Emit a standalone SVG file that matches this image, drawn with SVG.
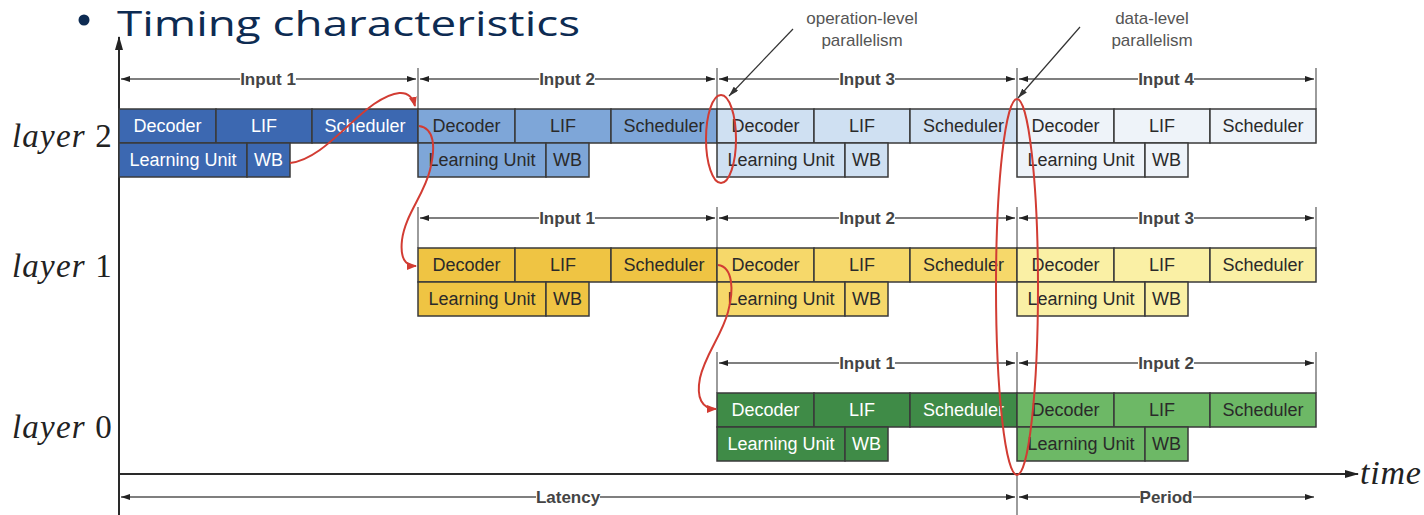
<svg xmlns="http://www.w3.org/2000/svg" width="1424" height="515" viewBox="0 0 1424 515">
  <defs>
    <marker id="dimHead" viewBox="0 0 9 6" refX="9" refY="3" markerWidth="9" markerHeight="6" markerUnits="userSpaceOnUse" orient="auto-start-reverse">
      <path d="M0,0 L9,3 L0,6 z" fill="#222"/>
    </marker>
    <marker id="axisHead" viewBox="0 0 14 8" refX="13" refY="4" markerWidth="14" markerHeight="8" markerUnits="userSpaceOnUse" orient="auto">
      <path d="M0,0 L14,4 L0,8 z" fill="#222"/>
    </marker>
    <marker id="redHead" viewBox="0 0 10 8" refX="9" refY="4" markerWidth="10" markerHeight="8" markerUnits="userSpaceOnUse" orient="auto">
      <path d="M0,0 L10,4 L0,8 z" fill="#d23c33"/>
    </marker>
    <marker id="noteHead" viewBox="0 0 10 6" refX="10" refY="3" markerWidth="10" markerHeight="6" markerUnits="userSpaceOnUse" orient="auto">
      <path d="M0,0 L10,3 L0,6 z" fill="#333"/>
    </marker>
  </defs>
  <style>
    .cell { stroke: #3a3a3a; stroke-width: 1.5; }
    .lbl { font-family: "Liberation Sans", Arial, sans-serif; font-size: 18px; text-anchor: middle; }
    .dark { fill: #ffffff; }
    .light { fill: #2a2a2a; }
    .b1 { fill: #3c68b1; } .b2 { fill: #7ea6d8; } .b3 { fill: #cfe0f2; } .b4 { fill: #eef3f9; }
    .y1 { fill: #efc443; } .y2 { fill: #f6d86a; } .y3 { fill: #faf0a5; }
    .g1 { fill: #3f8b47; } .g2 { fill: #6db866; }
    .dim { stroke: #555; stroke-width: 1.3; fill: none; }
    .tick { stroke: #666; stroke-width: 1.3; }
    .gap { fill: #ffffff; }
    .dimtxt { font-family: "Liberation Sans", Arial, sans-serif; font-size: 17px; font-weight: bold; fill: #444; text-anchor: middle; }
    .layer { font-family: "Liberation Serif", "Times New Roman", serif; font-size: 33px; font-style: italic; fill: #222; letter-spacing: 1.2px; }
    .num { font-style: normal; }
    .note { font-family: "Liberation Sans", Arial, sans-serif; font-size: 17px; fill: #555; text-anchor: middle; }
    .red { stroke: #d23c33; stroke-width: 2; fill: none; }
    .axis { stroke: #2a2a2a; stroke-width: 2; fill: none; }
  </style>

  <rect width="1424" height="515" fill="#ffffff"/>

  <!-- heading -->
  <g id="title">
    <circle cx="84" cy="20" r="5.5" fill="#0d2b52"/>
    <text x="117" y="36" font-family="'Open Sans', 'Noto Sans', sans-serif" font-size="34" fill="#0d2b52" textLength="463" lengthAdjust="spacingAndGlyphs">Timing characteristics</text>
  </g>

  <!-- axes -->
  <g id="axes">
    <line class="axis" x1="119" y1="515" x2="119" y2="37" marker-end="url(#axisHead)"/>
    <line class="axis" x1="118" y1="474" x2="1358" y2="474" marker-end="url(#axisHead)"/>
    <text x="1360" y="484" font-family="'Liberation Serif', 'Times New Roman', serif" font-size="34" font-style="italic" fill="#222" letter-spacing="0.8">time</text>
  </g>

  <!-- layer labels -->
  <g id="layer-labels">
    <text class="layer" x="12" y="147">layer <tspan class="num">2</tspan></text>
    <text class="layer" x="12" y="277">layer <tspan class="num">1</tspan></text>
    <text class="layer" x="12" y="438">layer <tspan class="num">0</tspan></text>
  </g>

  <!-- input spans -->
  <g id="spans">
    <!-- layer 2 -->
    <line class="tick" x1="418" y1="68" x2="418" y2="109"/>
    <line class="tick" x1="717" y1="68" x2="717" y2="109"/>
    <line class="tick" x1="1017" y1="68" x2="1017" y2="109"/>
    <line class="tick" x1="1316" y1="68" x2="1316" y2="109"/>
    <line class="dim" x1="121" y1="79" x2="416" y2="79" marker-start="url(#dimHead)" marker-end="url(#dimHead)"/>
    <line class="dim" x1="420" y1="79" x2="715" y2="79" marker-start="url(#dimHead)" marker-end="url(#dimHead)"/>
    <line class="dim" x1="719" y1="79" x2="1015" y2="79" marker-start="url(#dimHead)" marker-end="url(#dimHead)"/>
    <line class="dim" x1="1019" y1="79" x2="1314" y2="79" marker-start="url(#dimHead)" marker-end="url(#dimHead)"/>
    <rect class="gap" x="240" y="70" width="56" height="18"/>
    <rect class="gap" x="539" y="70" width="56" height="18"/>
    <rect class="gap" x="839" y="70" width="56" height="18"/>
    <rect class="gap" x="1138" y="70" width="56" height="18"/>
    <text class="dimtxt" x="268" y="85">Input 1</text>
    <text class="dimtxt" x="567" y="85">Input 2</text>
    <text class="dimtxt" x="867" y="85">Input 3</text>
    <text class="dimtxt" x="1166" y="85">Input 4</text>
    <!-- layer 1 -->
    <line class="tick" x1="418" y1="207" x2="418" y2="248"/>
    <line class="tick" x1="717" y1="207" x2="717" y2="248"/>
    <line class="tick" x1="1017" y1="207" x2="1017" y2="248"/>
    <line class="tick" x1="1316" y1="207" x2="1316" y2="248"/>
    <line class="dim" x1="420" y1="218" x2="715" y2="218" marker-start="url(#dimHead)" marker-end="url(#dimHead)"/>
    <line class="dim" x1="719" y1="218" x2="1015" y2="218" marker-start="url(#dimHead)" marker-end="url(#dimHead)"/>
    <line class="dim" x1="1019" y1="218" x2="1314" y2="218" marker-start="url(#dimHead)" marker-end="url(#dimHead)"/>
    <rect class="gap" x="539" y="209" width="56" height="18"/>
    <rect class="gap" x="839" y="209" width="56" height="18"/>
    <rect class="gap" x="1138" y="209" width="56" height="18"/>
    <text class="dimtxt" x="567" y="224">Input 1</text>
    <text class="dimtxt" x="867" y="224">Input 2</text>
    <text class="dimtxt" x="1166" y="224">Input 3</text>
    <!-- layer 0 -->
    <line class="tick" x1="717" y1="352" x2="717" y2="393"/>
    <line class="tick" x1="1017" y1="352" x2="1017" y2="393"/>
    <line class="tick" x1="1316" y1="352" x2="1316" y2="393"/>
    <line class="dim" x1="719" y1="363" x2="1015" y2="363" marker-start="url(#dimHead)" marker-end="url(#dimHead)"/>
    <line class="dim" x1="1019" y1="363" x2="1314" y2="363" marker-start="url(#dimHead)" marker-end="url(#dimHead)"/>
    <rect class="gap" x="839" y="354" width="56" height="18"/>
    <rect class="gap" x="1138" y="354" width="56" height="18"/>
    <text class="dimtxt" x="867" y="369">Input 1</text>
    <text class="dimtxt" x="1166" y="369">Input 2</text>
    <!-- latency / period -->
    <line class="tick" x1="1017" y1="474" x2="1017" y2="515"/>
    <line class="dim" x1="121" y1="497" x2="1015" y2="497" marker-start="url(#dimHead)" marker-end="url(#dimHead)"/>
    <line class="dim" x1="1019" y1="497" x2="1314" y2="497" marker-start="url(#dimHead)" marker-end="url(#dimHead)"/>
    <rect class="gap" x="536" y="488" width="64" height="18"/>
    <rect class="gap" x="1140" y="488" width="53" height="18"/>
    <text class="dimtxt" x="568" y="503">Latency</text>
    <text class="dimtxt" x="1166" y="503">Period</text>
  </g>

  <!-- layer 2 stages -->
  <g id="l2-in1">
    <rect class="cell b1" x="119" y="109" width="97" height="34"/>
    <rect class="cell b1" x="216" y="109" width="96" height="34"/>
    <rect class="cell b1" x="312" y="109" width="106" height="34"/>
    <rect class="cell b1" x="119" y="143" width="128" height="34"/>
    <rect class="cell b1" x="247" y="143" width="43" height="34"/>
    <text class="lbl dark" x="167.5" y="132">Decoder</text>
    <text class="lbl dark" x="264" y="132">LIF</text>
    <text class="lbl dark" x="365" y="132">Scheduler</text>
    <text class="lbl dark" x="183" y="166">Learning Unit</text>
    <text class="lbl dark" x="268.5" y="166">WB</text>
  </g>
  <g id="l2-in2">
    <rect class="cell b2" x="418" y="109" width="97" height="34"/>
    <rect class="cell b2" x="515" y="109" width="96" height="34"/>
    <rect class="cell b2" x="611" y="109" width="106" height="34"/>
    <rect class="cell b2" x="418" y="143" width="128" height="34"/>
    <rect class="cell b2" x="546" y="143" width="43" height="34"/>
    <text class="lbl light" x="466.5" y="132">Decoder</text>
    <text class="lbl light" x="563" y="132">LIF</text>
    <text class="lbl light" x="664" y="132">Scheduler</text>
    <text class="lbl light" x="482" y="166">Learning Unit</text>
    <text class="lbl light" x="567.5" y="166">WB</text>
  </g>
  <g id="l2-in3">
    <rect class="cell b3" x="717" y="109" width="97" height="34"/>
    <rect class="cell b3" x="814" y="109" width="96" height="34"/>
    <rect class="cell b3" x="910" y="109" width="107" height="34"/>
    <rect class="cell b3" x="717" y="143" width="128" height="34"/>
    <rect class="cell b3" x="845" y="143" width="43" height="34"/>
    <text class="lbl light" x="765.5" y="132">Decoder</text>
    <text class="lbl light" x="862" y="132">LIF</text>
    <text class="lbl light" x="963.5" y="132">Scheduler</text>
    <text class="lbl light" x="781" y="166">Learning Unit</text>
    <text class="lbl light" x="866.5" y="166">WB</text>
  </g>
  <g id="l2-in4">
    <rect class="cell b4" x="1017" y="109" width="97" height="34"/>
    <rect class="cell b4" x="1114" y="109" width="96" height="34"/>
    <rect class="cell b4" x="1210" y="109" width="106" height="34"/>
    <rect class="cell b4" x="1017" y="143" width="128" height="34"/>
    <rect class="cell b4" x="1145" y="143" width="43" height="34"/>
    <text class="lbl light" x="1065.5" y="132">Decoder</text>
    <text class="lbl light" x="1162" y="132">LIF</text>
    <text class="lbl light" x="1263" y="132">Scheduler</text>
    <text class="lbl light" x="1081" y="166">Learning Unit</text>
    <text class="lbl light" x="1166.5" y="166">WB</text>
  </g>

  <!-- layer 1 stages -->
  <g id="l1-in1">
    <rect class="cell y1" x="418" y="248" width="97" height="34"/>
    <rect class="cell y1" x="515" y="248" width="96" height="34"/>
    <rect class="cell y1" x="611" y="248" width="106" height="34"/>
    <rect class="cell y1" x="418" y="282" width="128" height="34"/>
    <rect class="cell y1" x="546" y="282" width="43" height="34"/>
    <text class="lbl light" x="466.5" y="271">Decoder</text>
    <text class="lbl light" x="563" y="271">LIF</text>
    <text class="lbl light" x="664" y="271">Scheduler</text>
    <text class="lbl light" x="482" y="305">Learning Unit</text>
    <text class="lbl light" x="567.5" y="305">WB</text>
  </g>
  <g id="l1-in2">
    <rect class="cell y2" x="717" y="248" width="97" height="34"/>
    <rect class="cell y2" x="814" y="248" width="96" height="34"/>
    <rect class="cell y2" x="910" y="248" width="107" height="34"/>
    <rect class="cell y2" x="717" y="282" width="128" height="34"/>
    <rect class="cell y2" x="845" y="282" width="43" height="34"/>
    <text class="lbl light" x="765.5" y="271">Decoder</text>
    <text class="lbl light" x="862" y="271">LIF</text>
    <text class="lbl light" x="963.5" y="271">Scheduler</text>
    <text class="lbl light" x="781" y="305">Learning Unit</text>
    <text class="lbl light" x="866.5" y="305">WB</text>
  </g>
  <g id="l1-in3">
    <rect class="cell y3" x="1017" y="248" width="97" height="34"/>
    <rect class="cell y3" x="1114" y="248" width="96" height="34"/>
    <rect class="cell y3" x="1210" y="248" width="106" height="34"/>
    <rect class="cell y3" x="1017" y="282" width="128" height="34"/>
    <rect class="cell y3" x="1145" y="282" width="43" height="34"/>
    <text class="lbl light" x="1065.5" y="271">Decoder</text>
    <text class="lbl light" x="1162" y="271">LIF</text>
    <text class="lbl light" x="1263" y="271">Scheduler</text>
    <text class="lbl light" x="1081" y="305">Learning Unit</text>
    <text class="lbl light" x="1166.5" y="305">WB</text>
  </g>

  <!-- layer 0 stages -->
  <g id="l0-in1">
    <rect class="cell g1" x="717" y="393" width="97" height="34"/>
    <rect class="cell g1" x="814" y="393" width="96" height="34"/>
    <rect class="cell g1" x="910" y="393" width="107" height="34"/>
    <rect class="cell g1" x="717" y="427" width="128" height="34"/>
    <rect class="cell g1" x="845" y="427" width="43" height="34"/>
    <text class="lbl dark" x="765.5" y="416">Decoder</text>
    <text class="lbl dark" x="862" y="416">LIF</text>
    <text class="lbl dark" x="963.5" y="416">Scheduler</text>
    <text class="lbl dark" x="781" y="450">Learning Unit</text>
    <text class="lbl dark" x="866.5" y="450">WB</text>
  </g>
  <g id="l0-in2">
    <rect class="cell g2" x="1017" y="393" width="97" height="34"/>
    <rect class="cell g2" x="1114" y="393" width="96" height="34"/>
    <rect class="cell g2" x="1210" y="393" width="106" height="34"/>
    <rect class="cell g2" x="1017" y="427" width="128" height="34"/>
    <rect class="cell g2" x="1145" y="427" width="43" height="34"/>
    <text class="lbl light" x="1065.5" y="416">Decoder</text>
    <text class="lbl light" x="1162" y="416">LIF</text>
    <text class="lbl light" x="1263" y="416">Scheduler</text>
    <text class="lbl light" x="1081" y="450">Learning Unit</text>
    <text class="lbl light" x="1166.5" y="450">WB</text>
  </g>

  <!-- parallelism notes -->
  <g id="note-operation">
    <text class="note" x="862" y="24">operation-level</text>
    <text class="note" x="862" y="46">parallelism</text>
    <line x1="793" y1="29" x2="729" y2="96" stroke="#333" stroke-width="1.2" marker-end="url(#noteHead)"/>
    <ellipse class="red" cx="721" cy="139" rx="15" ry="44"/>
  </g>
  <g id="note-data">
    <text class="note" x="1152" y="24">data-level</text>
    <text class="note" x="1152" y="46">parallelism</text>
    <line x1="1080" y1="27" x2="1018" y2="98" stroke="#333" stroke-width="1.2" marker-end="url(#noteHead)"/>
    <ellipse class="red" cx="1017" cy="287" rx="21" ry="188"/>
  </g>

  <!-- layer-to-layer hand-off -->
  <g id="connectors">
    <path class="red" d="M290,163 C320,160 348,122 374,104 C392,92 410,86 415,106" marker-end="url(#redHead)"/>
    <path class="red" d="M419,126 C434,128 436,146 430,170 C424,195 405,215 402,240 C400,258 405,266 416,266" marker-end="url(#redHead)"/>
    <path class="red" d="M718,265 C733,267 734,290 728,312 C722,335 705,355 700,378 C696,398 702,409 716,409" marker-end="url(#redHead)"/>
  </g>
</svg>
